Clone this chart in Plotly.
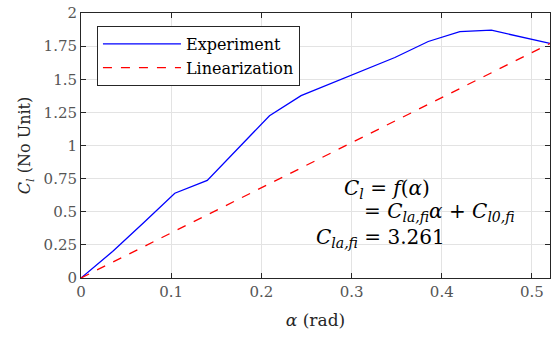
import plotly.graph_objects as go

# Data
exp_alpha = [0.0, 0.035, 0.07, 0.104, 0.14, 0.209, 0.244, 0.279, 0.314, 0.348, 0.385, 0.42, 0.455, 0.52]
exp_cl = [0.0, 0.20, 0.42, 0.64, 0.736, 1.225, 1.376, 1.472, 1.57, 1.664, 1.785, 1.86, 1.87, 1.77]
lin_alpha = [0.0, 0.52]
lin_cl = [0.0, 1.77]
x_ticks = [0, 0.1, 0.2, 0.3, 0.4, 0.5]
x_tick_labels = ["0", "0.1", "0.2", "0.3", "0.4", "0.5"]
y_ticks = [0, 0.25, 0.5, 0.75, 1, 1.25, 1.5, 1.75, 2]
y_tick_labels = ["0", "0.25", "0.5", "0.75", "1", "1.25", "1.5", "1.75", "2"]

FONT = "DejaVu Serif, Liberation Serif, serif"

fig = go.Figure()
fig.add_trace(go.Scatter(x=exp_alpha, y=exp_cl, mode="lines", name="Experiment",
                         line=dict(color="#0000ff", width=1.3)))
fig.add_trace(go.Scatter(x=lin_alpha, y=lin_cl, mode="lines", name="Linearization",
                         line=dict(color="#ff0000", width=1.3, dash="dash")))

axis_common = dict(showline=True, linecolor="#262626", linewidth=1, mirror="allticks",
                   ticks="inside", ticklen=5, tickcolor="#262626",
                   showgrid=True, gridcolor="#e3e3e3", gridwidth=1, zeroline=False,
                   tickfont=dict(family=FONT, size=15, color="#555555"))

fig.update_xaxes(range=[0, 0.52], tickvals=x_ticks, ticktext=x_tick_labels,
                 title=dict(text="<i>α</i> (rad)", font=dict(family=FONT, size=17, color="#262626"), standoff=14),
                 **axis_common)
fig.update_yaxes(range=[0, 2], tickvals=y_ticks, ticktext=y_tick_labels,
                 title=dict(text="<i>C</i><sub><i>l</i></sub> (No Unit)", font=dict(family=FONT, size=16, color="#262626"), standoff=8),
                 **axis_common)

ann_font = dict(family=FONT, size=20, color="#000000")
fig.add_annotation(x=0.2895, y=0.67, xref="x", yref="y", xanchor="left", yanchor="middle", showarrow=False,
                   text="<i>C</i><sub><i>l</i></sub> = <i>f</i>(<i>α</i>)", font=ann_font)
fig.add_annotation(x=0.312, y=0.50, xref="x", yref="y", xanchor="left", yanchor="middle", showarrow=False,
                   text="= <i>C</i><sub><i>la,fi</i></sub><i>α</i> + <i>C</i><sub><i>l0,fi</i></sub>", font=ann_font)
fig.add_annotation(x=0.258, y=0.30, xref="x", yref="y", xanchor="left", yanchor="middle", showarrow=False,
                   text="<i>C</i><sub><i>la,fi</i></sub> = 3.261", font=ann_font)

fig.update_layout(
    width=551, height=337,
    margin=dict(l=81, r=1, t=13, b=59),
    paper_bgcolor="white", plot_bgcolor="white",
    showlegend=True,
    legend=dict(x=0.034, y=0.951, xanchor="left", yanchor="top",
                bgcolor="white", bordercolor="#262626", borderwidth=1,
                font=dict(family=FONT, size=16, color="#000000"),
                itemwidth=78, tracegroupgap=0),
)

fig.write_html("out.html")
